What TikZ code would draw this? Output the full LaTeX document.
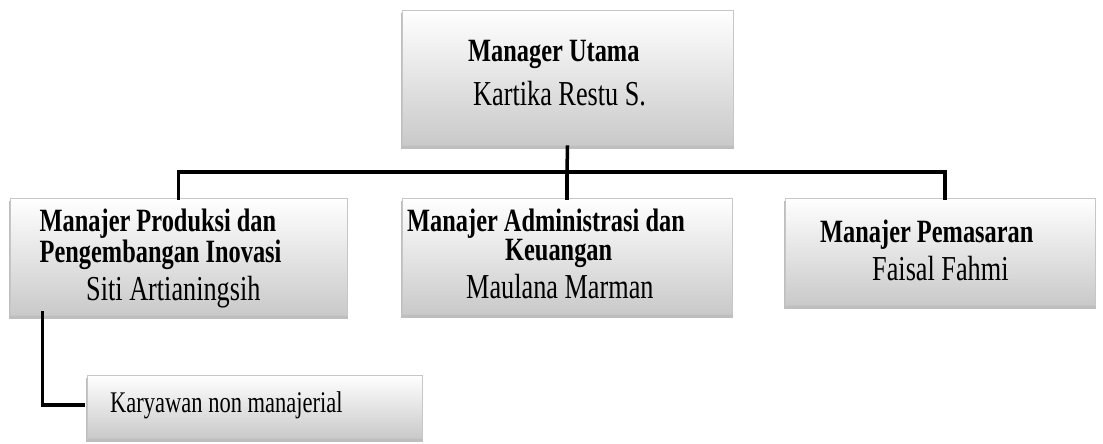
\documentclass[tikz,border=0pt]{standalone}
\usepackage{fontspec}
\setmainfont{Liberation Serif}[FakeStretch=0.75]
\usetikzlibrary{shadows}

\begin{document}
\begin{tikzpicture}[x=1pt, y=-1pt,
  unitbox/.style={rectangle, inner sep=0pt, top color=white, bottom color=gray!42, draw=gray!45, line width=0.6pt, drop shadow={shadow xshift=0pt, shadow yshift=-3.5pt, shadow scale=1.008, fill=gray!85, opacity=0.6}},
  jabatan/.style={anchor=base west, inner sep=0pt, font=\fontsize{32.5}{29}\selectfont\bfseries},
  nama/.style={anchor=base west, inner sep=0pt, font=\fontsize{35}{35}\selectfont},
  garis/.style={line width=3.5pt, line join=miter}]
\useasboundingbox (0,0) rectangle (1103,444);
\node[unitbox, minimum width=331pt, minimum height=135pt] (utama) at (567.5,77.5) {};
\node[unitbox, minimum width=337pt, minimum height=117pt] (produksi) at (178.5,256.5) {};
\node[unitbox, minimum width=330pt, minimum height=116pt] (admin) at (567,256) {};
\node[unitbox, minimum width=310pt, minimum height=107pt] (pemasaran) at (940,251.5) {};
\node[unitbox, minimum width=335pt, minimum height=63pt] (karyawan) at (254.5,406.5) {};
\node[jabatan] (utamaJ) at (468,61.7) {Manager Utama};
\node[nama] (utamaN) at (473,105) {Kartika Restu S.};
\node[jabatan, align=left] (produksiJ) at (39.5,262) {Manajer Produksi dan\\Pengembangan Inovasi};
\node[nama] (produksiN) at (86,300) {Siti Artianingsih};
\node[jabatan, align=left] (adminJ) at (407,260.5) {Manajer Administrasi dan\\\hspace*{98pt}Keuangan};
\node[nama] (adminN) at (466,298) {Maulana Marman};
\node[jabatan] (pemasaranJ) at (820,242) {Manajer Pemasaran};
\node[nama] (pemasaranN) at (872,280) {Faisal Fahmi};
\node[nama, font=\fontsize{30}{30}\selectfont] (karyawanN) at (110,412) {Karyawan non manajerial};
\coordinate (cabang) at (567,172);
\draw[garis] (utama.south) -- (cabang);
\draw[garis] ([yshift=-2pt]produksi.north) |- ([xshift=5pt]pemasaran.north |- cabang) -- ([xshift=5pt,yshift=-2pt]pemasaran.north);
\draw[garis] ([yshift=-2pt]admin.north) -- (cabang);
\draw[garis] ([xshift=33pt,yshift=4pt]produksi.south west) |- ([xshift=-2pt,yshift=1.5pt]karyawan.west);
\end{tikzpicture}
\end{document}
